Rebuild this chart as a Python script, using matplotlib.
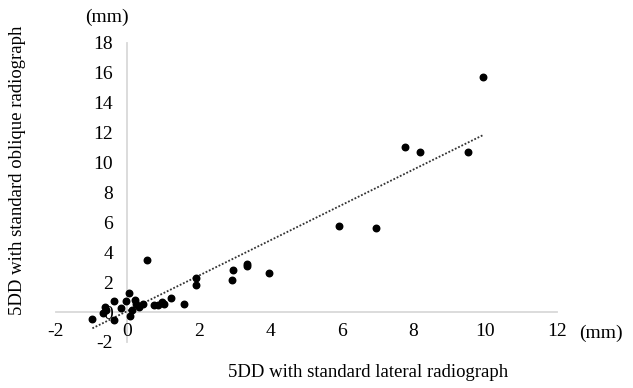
import matplotlib.pyplot as plt
import numpy as np

plt.rcParams['font.family'] = ['Liberation Serif', 'DejaVu Serif']
plt.rcParams['axes.unicode_minus'] = False

# 5DD measured on lateral (x) vs oblique (y) radiographs, mm
lateral = [-0.97, -0.63, -0.66, -0.60, -0.36, -0.36, -0.18, -0.03, 0.06, 0.08,
           0.13, 0.22, 0.25, 0.32, 0.44, 0.55, 0.75, 0.85, 0.97, 1.03,
           1.23, 1.60, 1.92, 1.93, 2.95, 2.94, 3.34, 3.36, 3.95, 5.93,
           6.95, 7.77, 8.17, 9.53, 9.93]
oblique = [-0.49, 0.31, -0.05, 0.13, 0.74, -0.54, 0.29, 0.74, 1.29, -0.27,
           0.13, 0.80, 0.54, 0.35, 0.54, 3.48, 0.47, 0.47, 0.69, 0.54,
           0.94, 0.52, 2.25, 1.81, 2.81, 2.14, 3.21, 3.08, 2.59, 5.75,
           5.64, 11.06, 10.72, 10.72, 15.70]

x_ticks = [-2, 0, 2, 4, 6, 8, 10, 12]
y_ticks = [-2, 0, 2, 4, 6, 8, 10, 12, 14, 16, 18]

x = np.array(lateral)
y = np.array(oblique)
slope, intercept = np.polyfit(x, y, 1)
xfit = np.array([x.min(), x.max()])

fig = plt.figure(figsize=(6.33, 3.88), dpi=100)
ax = fig.add_axes([0.0877, 0.1186, 0.7918, 0.7706])

ax.scatter(x, y, s=22, color='black', zorder=3)
ax.plot(xfit, slope * xfit + intercept, color='#333333', lw=1.3,
        linestyle=(0, (1, 1)), zorder=2)

ax.set_xlim(-2, 12)
ax.set_ylim(-2, 18)
ax.set_xticks(x_ticks)
ax.set_yticks(y_ticks)

for side in ['top', 'right']:
    ax.spines[side].set_visible(False)
ax.spines['left'].set_position(('data', 0))
ax.spines['bottom'].set_position(('data', 0))
for side in ['left', 'bottom']:
    ax.spines[side].set_color('#d9d9d9')
    ax.spines[side].set_linewidth(1.3)
    ax.spines[side].set_zorder(1)

ax.tick_params(axis='both', length=0, labelsize=14, colors='black')
ax.tick_params(axis='x', pad=8)
ax.tick_params(axis='y', pad=10)

fig.text(0.169, 0.956, '(mm)', fontsize=14, ha='center', va='center')
fig.text(0.949, 0.142, '(mm)', fontsize=14, ha='center', va='center')
fig.text(0.581, 0.041, '5DD with standard lateral radiograph', fontsize=13.5,
         ha='center', va='center')
fig.text(0.028, 0.56, '5DD with standard oblique radiograph', fontsize=13.5,
         ha='center', va='center', rotation=90)

fig.savefig('out.png', dpi=100)
